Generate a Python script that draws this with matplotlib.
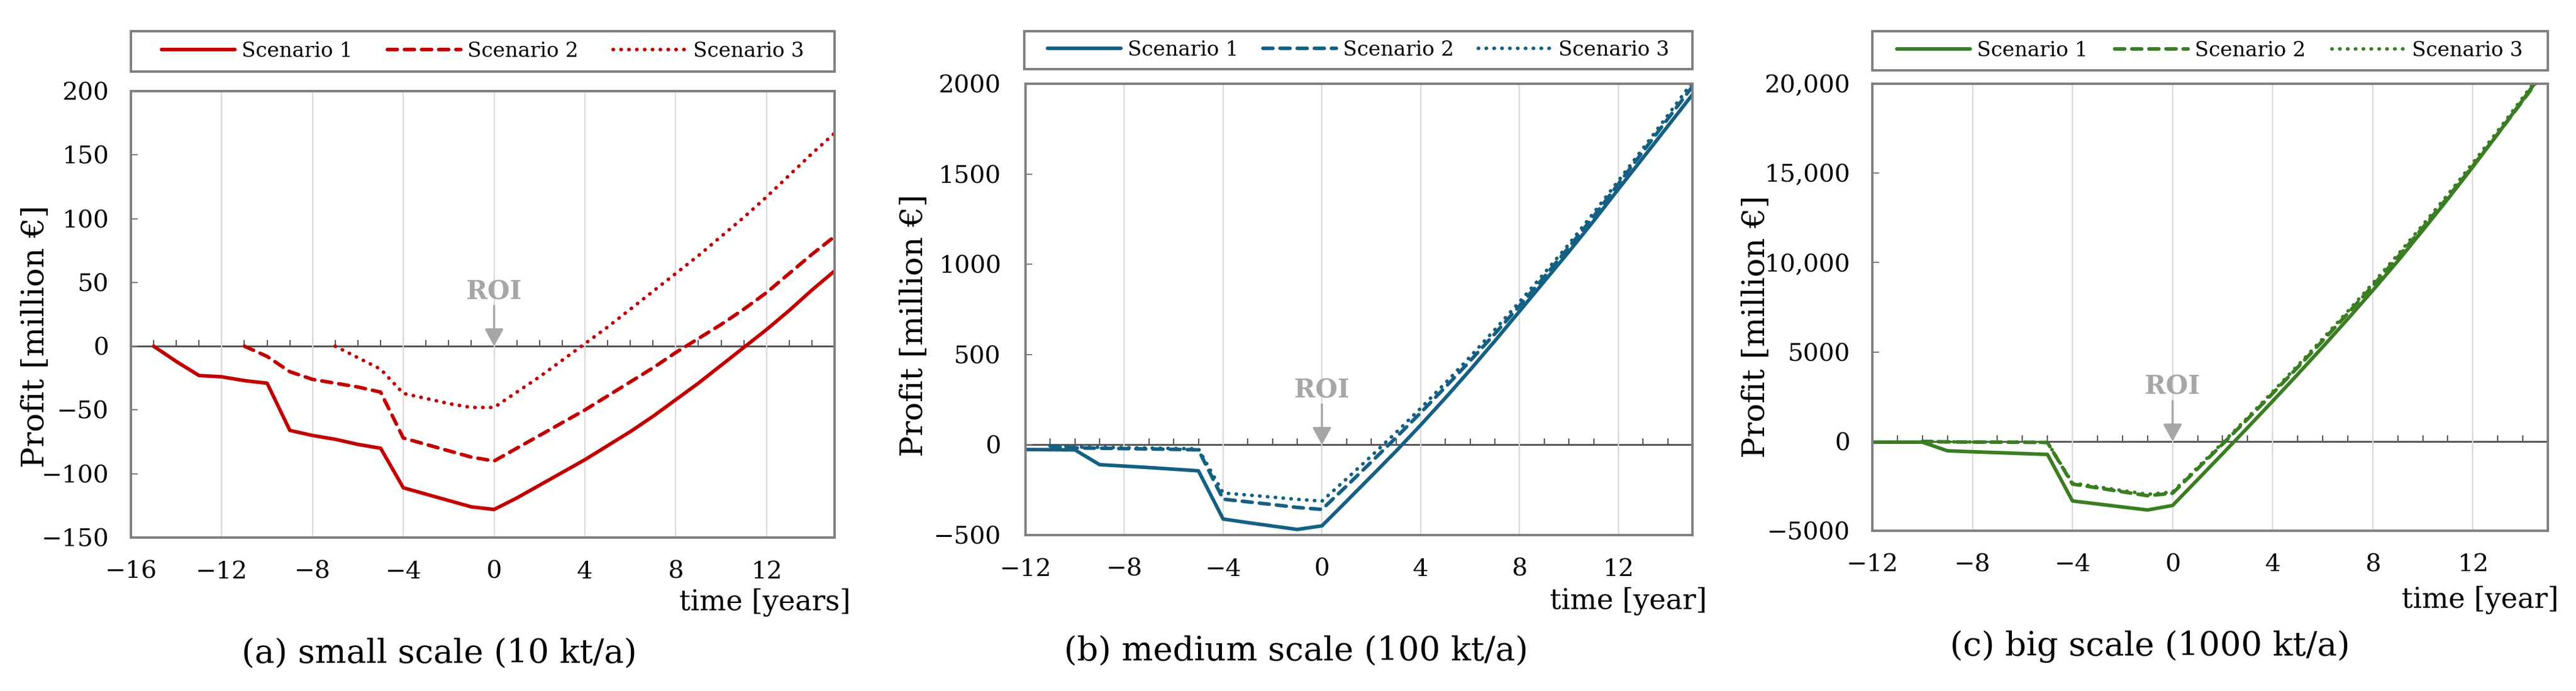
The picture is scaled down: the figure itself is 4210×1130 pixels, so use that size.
import matplotlib
matplotlib.use("Agg")

import matplotlib.pyplot as plt
from matplotlib.patches import Rectangle
from matplotlib.ticker import MultipleLocator, FuncFormatter

# ---- data ----
# (a) small scale, 10 kt/a
years_a1 = list(range(-15, 16))
profit_a1 = [0, -12, -23, -24, -27, -29, -66, -70, -73, -77, -80, -111, -116, -121, -126, -128,
             -119, -109, -99, -89, -78, -67, -55, -42, -29, -15, -1, 13, 28, 44, 59]
years_a2 = list(range(-11, 16))
profit_a2 = [0, -8, -20, -26, -29, -32, -36, -72, -77, -82, -87, -90,
             -80, -70, -60, -50, -39, -28, -17, -5, 6, 17, 29, 42, 57, 72, 86]
years_a3 = list(range(-7, 16))
profit_a3 = [0, -9, -18, -37, -41, -45, -48, -48,
             -36, -24, -11, 2, 15, 29, 43, 57, 71, 86, 101, 117, 134, 151, 167]

# (b) medium scale, 100 kt/a
years_b1 = list(range(-12, 16))
profit_b1 = [-26, -27, -28, -110, -118, -126, -135, -144, -411, -431, -450, -469, -449,
             -312, -174, -35, 110, 260, 415, 575, 740, 905, 1070, 1240, 1416, 1590, 1765, 1940]
years_b2 = list(range(-11, 16))
profit_b2 = [-8, -17, -19, -21, -23, -25, -28, -301, -316, -331, -347, -358,
             -228, -95, 40, 178, 320, 465, 615, 770, 930, 1095, 1265, 1445, 1625, 1805, 1985]
years_b3 = list(range(-11, 16))
profit_b3 = [-5, -12, -14, -16, -18, -20, -22, -267, -278, -290, -302, -312,
             -188, -62, 68, 203, 343, 488, 638, 792, 950, 1112, 1285, 1462, 1642, 1825, 2010]

# (c) big scale, 1000 kt/a
years_c1 = list(range(-12, 16))
profit_c1 = [-45, -45, -45, -525, -580, -630, -680, -730, -3333, -3500, -3670, -3836, -3585,
             -2140, -690, 770, 2250, 3750, 5280, 6840, 8440, 10080, 11800, 13550, 15350,
             17200, 19100, 21050]
years_c2 = list(range(-10, 16))
profit_c2 = [0, -30, -40, -45, -50, -60, -2386, -2600, -2820, -3037, -2900,
             -1530, -150, 1250, 2680, 4140, 5630, 7150, 8700, 10300, 11950, 13650, 15400,
             17200, 19050, 20950]
years_c3 = list(range(-10, 16))
profit_c3 = [0, -25, -35, -40, -45, -55, -2330, -2540, -2750, -2960, -2830,
             -1460, -80, 1330, 2770, 4240, 5740, 7270, 8830, 10440, 12100, 13800, 15560,
             17370, 19230, 21130]

scenario_labels = ["Scenario 1", "Scenario 2", "Scenario 3"]
panel_titles = ["(a) small scale (10 kt/a)", "(b) medium scale (100 kt/a)", "(c) big scale (1000 kt/a)"]
x_labels = ["time [years]", "time [year]", "time [year]"]

# ---- style ----
RED = "#C00000"
BLUE = "#156082"
GREEN = "#3A7D22"
GRID = "#D9D9D9"
AXIS = "#595959"
FRAME = "#7F7F7F"
ROI_GRAY = "#A6A6A6"
SERIF = ["DejaVu Serif"]
LW = 4.2

W, H = 4210, 1130
fig = plt.figure(figsize=(W / 100, H / 100), dpi=100)


def px_rect(left, top, right, bottom):
    return [left / W, 1 - bottom / H, (right - left) / W, (bottom - top) / H]


def thousands(v, pos):
    n = abs(int(round(v)))
    s = f"{n:,}" if n >= 10000 else f"{n}"
    return "\u2212" + s if v < 0 else s


def draw_panel(rect, leg_rect, colspace, series, color, xlim, ylim, ystep, ypad,
               title, title_xy, xlabel, xlabel_xy, ylabel_xy, fmt=None):
    ax = fig.add_axes(px_rect(*rect))
    styles = [dict(linestyle="-", solid_capstyle="round"),
              dict(linestyle=(0, (2.8, 2.0)), dash_capstyle="round"),
              dict(linestyle=(0, (0.1, 2.1)), dash_capstyle="round")]
    lines = []
    for (xs, ys), st in zip(series, styles):
        ln, = ax.plot(xs, ys, color=color, lw=LW, solid_joinstyle="round", **st)
        lines.append(ln)

    ax.set_xlim(*xlim)
    ax.set_ylim(*ylim)
    ax.xaxis.set_major_locator(MultipleLocator(4))
    ax.yaxis.set_major_locator(MultipleLocator(ystep))
    if fmt is not None:
        ax.yaxis.set_major_formatter(FuncFormatter(fmt))
    ax.tick_params(axis="x", length=0, pad=27, labelsize=29)
    ax.tick_params(axis="y", direction="in", length=8, width=1.5, color=FRAME,
                   pad=ypad, labelsize=29)
    for lab in ax.get_xticklabels() + ax.get_yticklabels():
        lab.set_family(SERIF)
    ax.grid(axis="x", color=GRID, lw=1.5)
    ax.set_axisbelow(True)
    for sp in ax.spines.values():
        sp.set_color(FRAME)
        sp.set_linewidth(2.8)

    # axis line through zero with year ticks
    frac = (0 - ylim[0]) / (ylim[1] - ylim[0])
    sec = ax.secondary_xaxis(frac)
    sec.spines["bottom"].set_color(AXIS)
    sec.spines["bottom"].set_linewidth(2.2)
    sec.xaxis.set_major_locator(MultipleLocator(4))
    sec.xaxis.set_minor_locator(MultipleLocator(1))
    sec.tick_params(which="major", direction="inout", length=21, width=1.5,
                    color=AXIS, labelbottom=False)
    sec.tick_params(which="minor", direction="in", length=7, width=1.5, color=AXIS)

    # ROI marker
    ax.annotate("", xy=(0, 0), xytext=(0, 66), textcoords="offset pixels",
                arrowprops=dict(arrowstyle="-|>,head_length=0.4,head_width=0.22",
                                color=ROI_GRAY, lw=2.5, mutation_scale=43,
                                shrinkA=0, shrinkB=0))
    ax.annotate("ROI", xy=(0, 0), xytext=(0, 89), textcoords="offset pixels",
                ha="center", va="center", color=ROI_GRAY, fontsize=30,
                fontweight="bold", family=SERIF)

    # legend above the plot, inside a full-width box
    l, t, r, b = leg_rect
    ax.legend(lines, scenario_labels, loc="center",
              bbox_to_anchor=((l + r) / 2 / W, 1 - (t + b) / 2 / H),
              bbox_transform=fig.transFigure, ncol=3, frameon=False,
              handlelength=3.6, handletextpad=0.33, columnspacing=colspace,
              borderaxespad=0, prop=dict(family=SERIF, size=24))
    fig.add_artist(Rectangle((l / W, 1 - b / H), (r - l) / W, (b - t) / H,
                             transform=fig.transFigure, fill=False,
                             edgecolor=FRAME, lw=2.8))

    fig.text(title_xy[0] / W, 1 - title_xy[1] / H, title, ha="center", va="center",
             fontsize=39, family=SERIF)
    fig.text(xlabel_xy[0] / W, 1 - xlabel_xy[1] / H, xlabel, ha="right", va="center",
             fontsize=33, family=SERIF)
    fig.text(ylabel_xy[0] / W, 1 - ylabel_xy[1] / H, "Profit [million \u20ac]",
             ha="center", va="center", rotation=90, fontsize=37, family=SERIF)
    return ax


draw_panel((214, 149, 1364, 879), (214, 51, 1364, 117), 1.7,
           [(years_a1, profit_a1), (years_a2, profit_a2), (years_a3, profit_a3)],
           RED, (-16, 15), (-150, 200), 50, 26,
           panel_titles[0], (718, 1069), x_labels[0], (1390, 985), (58, 550))

draw_panel((1676, 137, 2766, 875), (1674, 51, 2766, 113), 1.2,
           [(years_b1, profit_b1), (years_b2, profit_b2), (years_b3, profit_b3)],
           BLUE, (-12, 15), (-500, 2000), 500, 29,
           panel_titles[1], (2118, 1065), x_labels[1], (2790, 983), (1494, 532))

draw_panel((3060, 137, 4164, 868), (3060, 51, 4164, 115), 1.3,
           [(years_c1, profit_c1), (years_c2, profit_c2), (years_c3, profit_c3)],
           GREEN, (-12, 15), (-5000, 20000), 5000, 26,
           panel_titles[2], (3514, 1057), x_labels[2], (4182, 981), (2870, 534),
           fmt=thousands)

fig.savefig("out.png", dpi=100)
